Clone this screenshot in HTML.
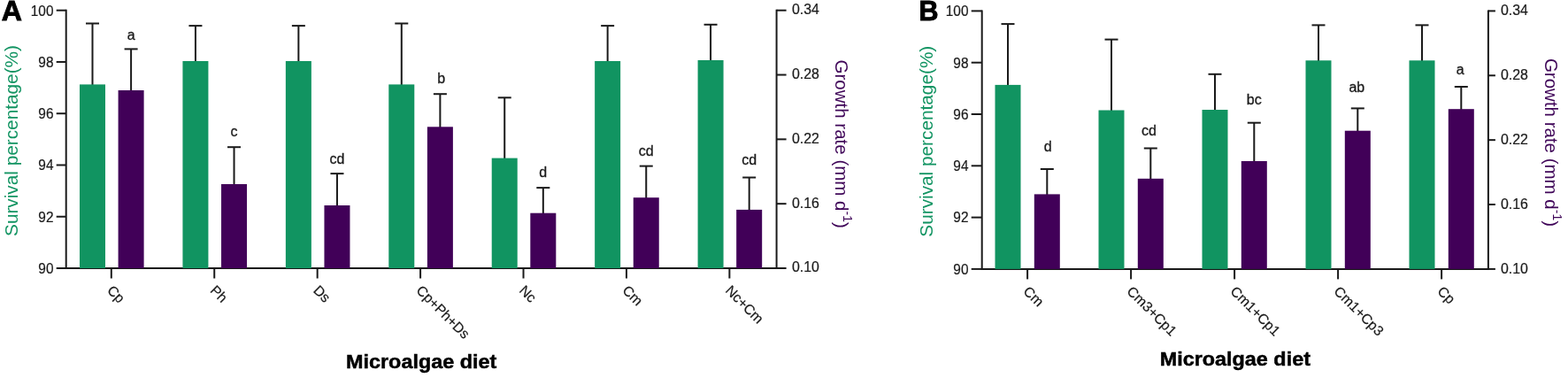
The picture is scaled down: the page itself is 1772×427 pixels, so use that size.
<!DOCTYPE html>
<html><head><meta charset="utf-8"><style>
html,body{margin:0;padding:0;background:#fff;}
body{width:1772px;height:427px;overflow:hidden;}
svg{display:block;font-family:'Liberation Sans', Arial, sans-serif;}
</style></head><body>
<svg width="1772" height="427" viewBox="0 0 1772 427">
<rect width="1772" height="427" fill="#fff"/>
<line x1="74.70" y1="10.70" x2="74.70" y2="304.00" stroke="#1a1a1a" stroke-width="2.0"/>
<line x1="877.60" y1="10.70" x2="877.60" y2="304.00" stroke="#1a1a1a" stroke-width="2.0"/>
<line x1="73.70" y1="303.00" x2="878.60" y2="303.00" stroke="#1a1a1a" stroke-width="2.0"/>
<line x1="63.70" y1="11.70" x2="74.70" y2="11.70" stroke="#1a1a1a" stroke-width="2.0"/>
<text transform="translate(60.50,17.50) scale(1.0,1.03)" font-size="15.4" text-anchor="end" fill="#1a1a1a" stroke="#1a1a1a" stroke-width="0.2">100</text>
<line x1="63.70" y1="69.96" x2="74.70" y2="69.96" stroke="#1a1a1a" stroke-width="2.0"/>
<text transform="translate(60.50,75.76) scale(1.0,1.03)" font-size="15.4" text-anchor="end" fill="#1a1a1a" stroke="#1a1a1a" stroke-width="0.2">98</text>
<line x1="63.70" y1="128.22" x2="74.70" y2="128.22" stroke="#1a1a1a" stroke-width="2.0"/>
<text transform="translate(60.50,134.02) scale(1.0,1.03)" font-size="15.4" text-anchor="end" fill="#1a1a1a" stroke="#1a1a1a" stroke-width="0.2">96</text>
<line x1="63.70" y1="186.48" x2="74.70" y2="186.48" stroke="#1a1a1a" stroke-width="2.0"/>
<text transform="translate(60.50,192.28) scale(1.0,1.03)" font-size="15.4" text-anchor="end" fill="#1a1a1a" stroke="#1a1a1a" stroke-width="0.2">94</text>
<line x1="63.70" y1="244.74" x2="74.70" y2="244.74" stroke="#1a1a1a" stroke-width="2.0"/>
<text transform="translate(60.50,250.54) scale(1.0,1.03)" font-size="15.4" text-anchor="end" fill="#1a1a1a" stroke="#1a1a1a" stroke-width="0.2">92</text>
<line x1="63.70" y1="303.00" x2="74.70" y2="303.00" stroke="#1a1a1a" stroke-width="2.0"/>
<text transform="translate(60.50,308.80) scale(1.0,1.03)" font-size="15.4" text-anchor="end" fill="#1a1a1a" stroke="#1a1a1a" stroke-width="0.2">90</text>
<line x1="877.60" y1="11.70" x2="888.60" y2="11.70" stroke="#1a1a1a" stroke-width="2.0"/>
<text transform="translate(894.90,16.10) scale(1.0,1.03)" font-size="15.9" fill="#1a1a1a" stroke="#1a1a1a" stroke-width="0.2">0.34</text>
<line x1="877.60" y1="84.53" x2="888.60" y2="84.53" stroke="#1a1a1a" stroke-width="2.0"/>
<text transform="translate(894.90,88.93) scale(1.0,1.03)" font-size="15.9" fill="#1a1a1a" stroke="#1a1a1a" stroke-width="0.2">0.28</text>
<line x1="877.60" y1="157.35" x2="888.60" y2="157.35" stroke="#1a1a1a" stroke-width="2.0"/>
<text transform="translate(894.90,161.75) scale(1.0,1.03)" font-size="15.9" fill="#1a1a1a" stroke="#1a1a1a" stroke-width="0.2">0.22</text>
<line x1="877.60" y1="230.18" x2="888.60" y2="230.18" stroke="#1a1a1a" stroke-width="2.0"/>
<text transform="translate(894.90,234.58) scale(1.0,1.03)" font-size="15.9" fill="#1a1a1a" stroke="#1a1a1a" stroke-width="0.2">0.16</text>
<line x1="877.60" y1="303.00" x2="888.60" y2="303.00" stroke="#1a1a1a" stroke-width="2.0"/>
<text transform="translate(894.90,307.40) scale(1.0,1.03)" font-size="15.9" fill="#1a1a1a" stroke="#1a1a1a" stroke-width="0.2">0.10</text>
<line x1="104.50" y1="26.50" x2="104.50" y2="96.40" stroke="#1a1a1a" stroke-width="2.0"/>
<line x1="97.00" y1="26.50" x2="112.00" y2="26.50" stroke="#1a1a1a" stroke-width="2.0"/>
<line x1="148.10" y1="55.40" x2="148.10" y2="103.00" stroke="#1a1a1a" stroke-width="2.0"/>
<line x1="140.60" y1="55.40" x2="155.60" y2="55.40" stroke="#1a1a1a" stroke-width="2.0"/>
<rect x="90.00" y="95.40" width="29.00" height="207.60" fill="#119461"/>
<rect x="133.60" y="102.00" width="29.00" height="201.00" fill="#410058"/>
<text transform="translate(148.10,45.00)" font-size="16.0" text-anchor="middle" fill="#1a1a1a" stroke="#1a1a1a" stroke-width="0.3">a</text>
<line x1="125.80" y1="303.00" x2="125.80" y2="314.50" stroke="#1a1a1a" stroke-width="2.0"/>
<text transform="translate(120.30,329.00) rotate(45)" font-size="15.8" fill="#1a1a1a" stroke="#1a1a1a" stroke-width="0.2">Cp</text>
<line x1="220.93" y1="29.10" x2="220.93" y2="70.00" stroke="#1a1a1a" stroke-width="2.0"/>
<line x1="213.43" y1="29.10" x2="228.43" y2="29.10" stroke="#1a1a1a" stroke-width="2.0"/>
<line x1="264.53" y1="166.20" x2="264.53" y2="209.00" stroke="#1a1a1a" stroke-width="2.0"/>
<line x1="257.03" y1="166.20" x2="272.03" y2="166.20" stroke="#1a1a1a" stroke-width="2.0"/>
<rect x="206.43" y="69.00" width="29.00" height="234.00" fill="#119461"/>
<rect x="250.03" y="208.00" width="29.00" height="95.00" fill="#410058"/>
<text transform="translate(264.53,154.10)" font-size="16.0" text-anchor="middle" fill="#1a1a1a" stroke="#1a1a1a" stroke-width="0.3">c</text>
<line x1="242.23" y1="303.00" x2="242.23" y2="314.50" stroke="#1a1a1a" stroke-width="2.0"/>
<text transform="translate(236.73,329.00) rotate(45)" font-size="15.8" fill="#1a1a1a" stroke="#1a1a1a" stroke-width="0.2">Ph</text>
<line x1="337.36" y1="29.10" x2="337.36" y2="70.00" stroke="#1a1a1a" stroke-width="2.0"/>
<line x1="329.86" y1="29.10" x2="344.86" y2="29.10" stroke="#1a1a1a" stroke-width="2.0"/>
<line x1="380.96" y1="196.10" x2="380.96" y2="233.00" stroke="#1a1a1a" stroke-width="2.0"/>
<line x1="373.46" y1="196.10" x2="388.46" y2="196.10" stroke="#1a1a1a" stroke-width="2.0"/>
<rect x="322.86" y="69.00" width="29.00" height="234.00" fill="#119461"/>
<rect x="366.46" y="232.00" width="29.00" height="71.00" fill="#410058"/>
<text transform="translate(380.96,185.00)" font-size="16.0" text-anchor="middle" fill="#1a1a1a" stroke="#1a1a1a" stroke-width="0.3">cd</text>
<line x1="358.66" y1="303.00" x2="358.66" y2="314.50" stroke="#1a1a1a" stroke-width="2.0"/>
<text transform="translate(353.16,329.00) rotate(45)" font-size="15.8" fill="#1a1a1a" stroke="#1a1a1a" stroke-width="0.2">Ds</text>
<line x1="453.79" y1="26.50" x2="453.79" y2="96.40" stroke="#1a1a1a" stroke-width="2.0"/>
<line x1="446.29" y1="26.50" x2="461.29" y2="26.50" stroke="#1a1a1a" stroke-width="2.0"/>
<line x1="497.39" y1="106.20" x2="497.39" y2="144.30" stroke="#1a1a1a" stroke-width="2.0"/>
<line x1="489.89" y1="106.20" x2="504.89" y2="106.20" stroke="#1a1a1a" stroke-width="2.0"/>
<rect x="439.29" y="95.40" width="29.00" height="207.60" fill="#119461"/>
<rect x="482.89" y="143.30" width="29.00" height="159.70" fill="#410058"/>
<text transform="translate(498.59,93.90)" font-size="16.0" text-anchor="middle" fill="#1a1a1a" stroke="#1a1a1a" stroke-width="0.3">b</text>
<line x1="475.09" y1="303.00" x2="475.09" y2="314.50" stroke="#1a1a1a" stroke-width="2.0"/>
<text transform="translate(469.59,329.00) rotate(45)" font-size="15.8" fill="#1a1a1a" stroke="#1a1a1a" stroke-width="0.2">Cp+Ph+Ds</text>
<line x1="570.22" y1="110.30" x2="570.22" y2="179.60" stroke="#1a1a1a" stroke-width="2.0"/>
<line x1="562.72" y1="110.30" x2="577.72" y2="110.30" stroke="#1a1a1a" stroke-width="2.0"/>
<line x1="613.82" y1="212.10" x2="613.82" y2="241.70" stroke="#1a1a1a" stroke-width="2.0"/>
<line x1="606.32" y1="212.10" x2="621.32" y2="212.10" stroke="#1a1a1a" stroke-width="2.0"/>
<rect x="555.72" y="178.60" width="29.00" height="124.40" fill="#119461"/>
<rect x="599.32" y="240.70" width="29.00" height="62.30" fill="#410058"/>
<text transform="translate(613.82,199.70)" font-size="16.0" text-anchor="middle" fill="#1a1a1a" stroke="#1a1a1a" stroke-width="0.3">d</text>
<line x1="591.52" y1="303.00" x2="591.52" y2="314.50" stroke="#1a1a1a" stroke-width="2.0"/>
<text transform="translate(586.02,329.00) rotate(45)" font-size="15.8" fill="#1a1a1a" stroke="#1a1a1a" stroke-width="0.2">Nc</text>
<line x1="686.65" y1="29.10" x2="686.65" y2="70.00" stroke="#1a1a1a" stroke-width="2.0"/>
<line x1="679.15" y1="29.10" x2="694.15" y2="29.10" stroke="#1a1a1a" stroke-width="2.0"/>
<line x1="730.25" y1="187.60" x2="730.25" y2="224.20" stroke="#1a1a1a" stroke-width="2.0"/>
<line x1="722.75" y1="187.60" x2="737.75" y2="187.60" stroke="#1a1a1a" stroke-width="2.0"/>
<rect x="672.15" y="69.00" width="29.00" height="234.00" fill="#119461"/>
<rect x="715.75" y="223.20" width="29.00" height="79.80" fill="#410058"/>
<text transform="translate(730.25,176.00)" font-size="16.0" text-anchor="middle" fill="#1a1a1a" stroke="#1a1a1a" stroke-width="0.3">cd</text>
<line x1="707.95" y1="303.00" x2="707.95" y2="314.50" stroke="#1a1a1a" stroke-width="2.0"/>
<text transform="translate(702.45,329.00) rotate(45)" font-size="15.8" fill="#1a1a1a" stroke="#1a1a1a" stroke-width="0.2">Cm</text>
<line x1="803.08" y1="27.80" x2="803.08" y2="69.00" stroke="#1a1a1a" stroke-width="2.0"/>
<line x1="795.58" y1="27.80" x2="810.58" y2="27.80" stroke="#1a1a1a" stroke-width="2.0"/>
<line x1="846.68" y1="200.50" x2="846.68" y2="237.90" stroke="#1a1a1a" stroke-width="2.0"/>
<line x1="839.18" y1="200.50" x2="854.18" y2="200.50" stroke="#1a1a1a" stroke-width="2.0"/>
<rect x="788.58" y="68.00" width="29.00" height="235.00" fill="#119461"/>
<rect x="832.18" y="236.90" width="29.00" height="66.10" fill="#410058"/>
<text transform="translate(846.68,186.30)" font-size="16.0" text-anchor="middle" fill="#1a1a1a" stroke="#1a1a1a" stroke-width="0.3">cd</text>
<line x1="824.38" y1="303.00" x2="824.38" y2="314.50" stroke="#1a1a1a" stroke-width="2.0"/>
<text transform="translate(818.88,329.00) rotate(45)" font-size="15.8" fill="#1a1a1a" stroke="#1a1a1a" stroke-width="0.2">Nc+Cm</text>
<text transform="translate(1.70,23.20) scale(1.05,1.01)" font-size="30.5" fill="#000" font-weight="bold" stroke="#000" stroke-width="0.9">A</text>
<text transform="translate(19.60,159.00) rotate(-90) scale(1.0,0.95)" font-size="20.8" text-anchor="middle" fill="#129462">Survival percentage(%)</text>
<text transform="translate(943.60,67.60) rotate(90)" font-size="20.5" fill="#3f0558">Growth rate (mm d<tspan dy="-9.5" font-size="14">-1</tspan><tspan dy="9.5">)</tspan></text>
<text transform="translate(476.15,416.30) scale(1.0,0.95)" font-size="23.4" text-anchor="middle" fill="#000" font-weight="bold" stroke="#000" stroke-width="0.5">Microalgae diet</text>
<line x1="1109.70" y1="11.40" x2="1109.70" y2="304.90" stroke="#1a1a1a" stroke-width="2.0"/>
<line x1="1681.90" y1="11.40" x2="1681.90" y2="304.90" stroke="#1a1a1a" stroke-width="2.0"/>
<line x1="1108.70" y1="303.90" x2="1682.90" y2="303.90" stroke="#1a1a1a" stroke-width="2.0"/>
<line x1="1097.70" y1="12.40" x2="1109.70" y2="12.40" stroke="#1a1a1a" stroke-width="2.0"/>
<text transform="translate(1094.50,18.20) scale(1.0,1.03)" font-size="15.4" text-anchor="end" fill="#1a1a1a" stroke="#1a1a1a" stroke-width="0.2">100</text>
<line x1="1097.70" y1="70.70" x2="1109.70" y2="70.70" stroke="#1a1a1a" stroke-width="2.0"/>
<text transform="translate(1094.50,76.50) scale(1.0,1.03)" font-size="15.4" text-anchor="end" fill="#1a1a1a" stroke="#1a1a1a" stroke-width="0.2">98</text>
<line x1="1097.70" y1="129.00" x2="1109.70" y2="129.00" stroke="#1a1a1a" stroke-width="2.0"/>
<text transform="translate(1094.50,134.80) scale(1.0,1.03)" font-size="15.4" text-anchor="end" fill="#1a1a1a" stroke="#1a1a1a" stroke-width="0.2">96</text>
<line x1="1097.70" y1="187.30" x2="1109.70" y2="187.30" stroke="#1a1a1a" stroke-width="2.0"/>
<text transform="translate(1094.50,193.10) scale(1.0,1.03)" font-size="15.4" text-anchor="end" fill="#1a1a1a" stroke="#1a1a1a" stroke-width="0.2">94</text>
<line x1="1097.70" y1="245.60" x2="1109.70" y2="245.60" stroke="#1a1a1a" stroke-width="2.0"/>
<text transform="translate(1094.50,251.40) scale(1.0,1.03)" font-size="15.4" text-anchor="end" fill="#1a1a1a" stroke="#1a1a1a" stroke-width="0.2">92</text>
<line x1="1097.70" y1="303.90" x2="1109.70" y2="303.90" stroke="#1a1a1a" stroke-width="2.0"/>
<text transform="translate(1094.50,309.70) scale(1.0,1.03)" font-size="15.4" text-anchor="end" fill="#1a1a1a" stroke="#1a1a1a" stroke-width="0.2">90</text>
<line x1="1681.90" y1="12.40" x2="1689.90" y2="12.40" stroke="#1a1a1a" stroke-width="2.0"/>
<text transform="translate(1696.00,17.20) scale(1.0,1.03)" font-size="15.9" fill="#1a1a1a" stroke="#1a1a1a" stroke-width="0.2">0.34</text>
<line x1="1681.90" y1="85.28" x2="1689.90" y2="85.28" stroke="#1a1a1a" stroke-width="2.0"/>
<text transform="translate(1696.00,90.08) scale(1.0,1.03)" font-size="15.9" fill="#1a1a1a" stroke="#1a1a1a" stroke-width="0.2">0.28</text>
<line x1="1681.90" y1="158.15" x2="1689.90" y2="158.15" stroke="#1a1a1a" stroke-width="2.0"/>
<text transform="translate(1696.00,162.95) scale(1.0,1.03)" font-size="15.9" fill="#1a1a1a" stroke="#1a1a1a" stroke-width="0.2">0.22</text>
<line x1="1681.90" y1="231.03" x2="1689.90" y2="231.03" stroke="#1a1a1a" stroke-width="2.0"/>
<text transform="translate(1696.00,235.83) scale(1.0,1.03)" font-size="15.9" fill="#1a1a1a" stroke="#1a1a1a" stroke-width="0.2">0.16</text>
<line x1="1681.90" y1="303.90" x2="1689.90" y2="303.90" stroke="#1a1a1a" stroke-width="2.0"/>
<text transform="translate(1696.00,308.70) scale(1.0,1.03)" font-size="15.9" fill="#1a1a1a" stroke="#1a1a1a" stroke-width="0.2">0.10</text>
<line x1="1139.00" y1="27.10" x2="1139.00" y2="96.90" stroke="#1a1a1a" stroke-width="2.0"/>
<line x1="1131.50" y1="27.10" x2="1146.50" y2="27.10" stroke="#1a1a1a" stroke-width="2.0"/>
<line x1="1183.30" y1="191.00" x2="1183.30" y2="220.40" stroke="#1a1a1a" stroke-width="2.0"/>
<line x1="1175.80" y1="191.00" x2="1190.80" y2="191.00" stroke="#1a1a1a" stroke-width="2.0"/>
<rect x="1124.50" y="95.90" width="29.00" height="208.00" fill="#119461"/>
<rect x="1168.80" y="219.40" width="29.00" height="84.50" fill="#410058"/>
<text transform="translate(1184.30,171.40)" font-size="16.0" text-anchor="middle" fill="#1a1a1a" stroke="#1a1a1a" stroke-width="0.3">d</text>
<line x1="1161.10" y1="303.90" x2="1161.10" y2="315.40" stroke="#1a1a1a" stroke-width="2.0"/>
<text transform="translate(1155.60,329.90) rotate(45)" font-size="15.8" fill="#1a1a1a" stroke="#1a1a1a" stroke-width="0.2">Cm</text>
<line x1="1256.00" y1="44.60" x2="1256.00" y2="125.50" stroke="#1a1a1a" stroke-width="2.0"/>
<line x1="1248.50" y1="44.60" x2="1263.50" y2="44.60" stroke="#1a1a1a" stroke-width="2.0"/>
<line x1="1300.30" y1="167.50" x2="1300.30" y2="202.80" stroke="#1a1a1a" stroke-width="2.0"/>
<line x1="1292.80" y1="167.50" x2="1307.80" y2="167.50" stroke="#1a1a1a" stroke-width="2.0"/>
<rect x="1241.50" y="124.50" width="29.00" height="179.40" fill="#119461"/>
<rect x="1285.80" y="201.80" width="29.00" height="102.10" fill="#410058"/>
<text transform="translate(1298.50,152.60)" font-size="16.0" text-anchor="middle" fill="#1a1a1a" stroke="#1a1a1a" stroke-width="0.3">cd</text>
<line x1="1278.10" y1="303.90" x2="1278.10" y2="315.40" stroke="#1a1a1a" stroke-width="2.0"/>
<text transform="translate(1272.60,329.90) rotate(45)" font-size="15.8" fill="#1a1a1a" stroke="#1a1a1a" stroke-width="0.2">Cm3+Cp1</text>
<line x1="1373.00" y1="83.80" x2="1373.00" y2="125.00" stroke="#1a1a1a" stroke-width="2.0"/>
<line x1="1365.50" y1="83.80" x2="1380.50" y2="83.80" stroke="#1a1a1a" stroke-width="2.0"/>
<line x1="1417.30" y1="138.70" x2="1417.30" y2="183.00" stroke="#1a1a1a" stroke-width="2.0"/>
<line x1="1409.80" y1="138.70" x2="1424.80" y2="138.70" stroke="#1a1a1a" stroke-width="2.0"/>
<rect x="1358.50" y="124.00" width="29.00" height="179.90" fill="#119461"/>
<rect x="1402.80" y="182.00" width="29.00" height="121.90" fill="#410058"/>
<text transform="translate(1417.30,117.90)" font-size="16.0" text-anchor="middle" fill="#1a1a1a" stroke="#1a1a1a" stroke-width="0.3">bc</text>
<line x1="1395.10" y1="303.90" x2="1395.10" y2="315.40" stroke="#1a1a1a" stroke-width="2.0"/>
<text transform="translate(1389.60,329.90) rotate(45)" font-size="15.8" fill="#1a1a1a" stroke="#1a1a1a" stroke-width="0.2">Cm1+Cp1</text>
<line x1="1490.00" y1="28.40" x2="1490.00" y2="69.30" stroke="#1a1a1a" stroke-width="2.0"/>
<line x1="1482.50" y1="28.40" x2="1497.50" y2="28.40" stroke="#1a1a1a" stroke-width="2.0"/>
<line x1="1534.30" y1="122.40" x2="1534.30" y2="148.70" stroke="#1a1a1a" stroke-width="2.0"/>
<line x1="1526.80" y1="122.40" x2="1541.80" y2="122.40" stroke="#1a1a1a" stroke-width="2.0"/>
<rect x="1475.50" y="68.30" width="29.00" height="235.60" fill="#119461"/>
<rect x="1519.80" y="147.70" width="29.00" height="156.20" fill="#410058"/>
<text transform="translate(1533.30,104.20)" font-size="16.0" text-anchor="middle" fill="#1a1a1a" stroke="#1a1a1a" stroke-width="0.3">ab</text>
<line x1="1512.10" y1="303.90" x2="1512.10" y2="315.40" stroke="#1a1a1a" stroke-width="2.0"/>
<text transform="translate(1506.60,329.90) rotate(45)" font-size="15.8" fill="#1a1a1a" stroke="#1a1a1a" stroke-width="0.2">Cm1+Cp3</text>
<line x1="1607.00" y1="28.40" x2="1607.00" y2="69.30" stroke="#1a1a1a" stroke-width="2.0"/>
<line x1="1599.50" y1="28.40" x2="1614.50" y2="28.40" stroke="#1a1a1a" stroke-width="2.0"/>
<line x1="1651.30" y1="98.00" x2="1651.30" y2="124.20" stroke="#1a1a1a" stroke-width="2.0"/>
<line x1="1643.80" y1="98.00" x2="1658.80" y2="98.00" stroke="#1a1a1a" stroke-width="2.0"/>
<rect x="1592.50" y="68.30" width="29.00" height="235.60" fill="#119461"/>
<rect x="1636.80" y="123.20" width="29.00" height="180.70" fill="#410058"/>
<text transform="translate(1650.30,83.60)" font-size="16.0" text-anchor="middle" fill="#1a1a1a" stroke="#1a1a1a" stroke-width="0.3">a</text>
<line x1="1629.10" y1="303.90" x2="1629.10" y2="315.40" stroke="#1a1a1a" stroke-width="2.0"/>
<text transform="translate(1623.60,329.90) rotate(45)" font-size="15.8" fill="#1a1a1a" stroke="#1a1a1a" stroke-width="0.2">Cp</text>
<text transform="translate(1038.50,23.20)" font-size="30.5" fill="#000" font-weight="bold" stroke="#000" stroke-width="0.9">B</text>
<text transform="translate(1053.80,159.70) rotate(-90) scale(1.0,0.95)" font-size="20.8" text-anchor="middle" fill="#129462">Survival percentage(%)</text>
<text transform="translate(1745.90,65.90) rotate(90)" font-size="20.5" fill="#3f0558">Growth rate (mm d<tspan dy="-9.5" font-size="14">-1</tspan><tspan dy="9.5">)</tspan></text>
<text transform="translate(1395.80,413.30) scale(1.0,0.95)" font-size="23.4" text-anchor="middle" fill="#000" font-weight="bold" stroke="#000" stroke-width="0.5">Microalgae diet</text>
</svg>
</body></html>
